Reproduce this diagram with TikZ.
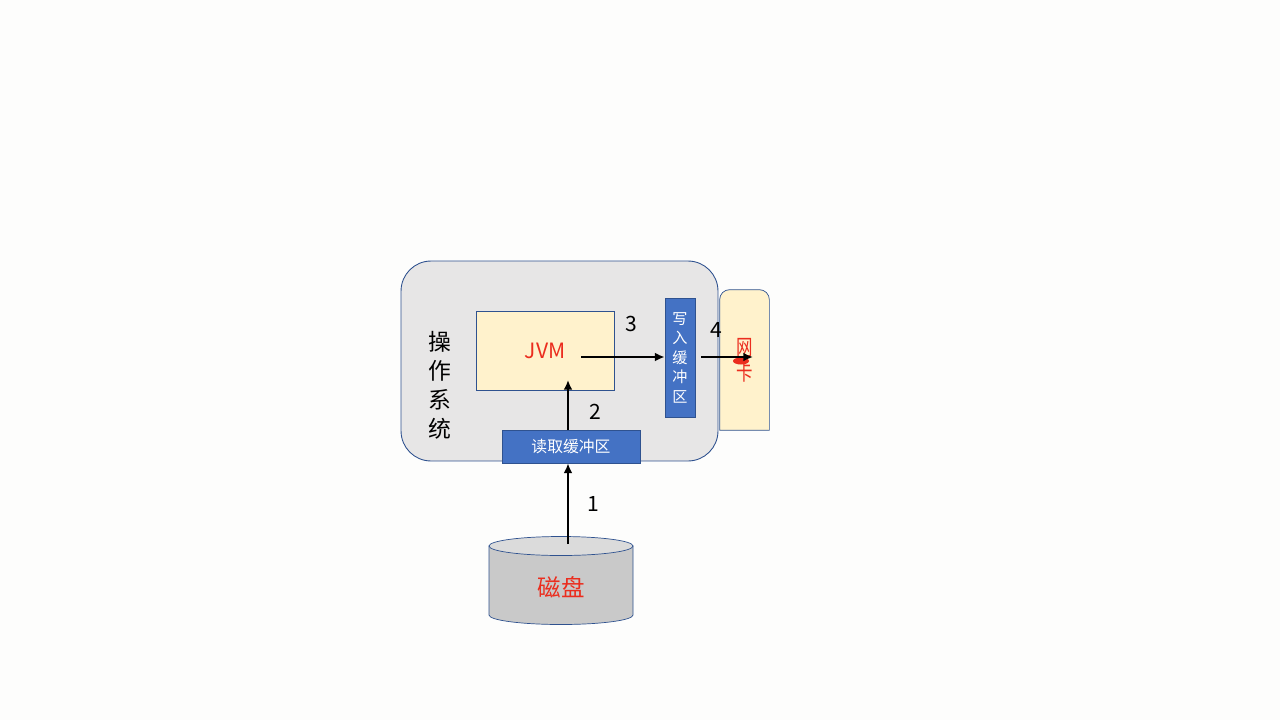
\documentclass[tikz,border=0pt]{standalone}
\usepackage{fontspec}
\setmainfont{Noto Sans CJK SC}
\usetikzlibrary{calc,arrows.meta}
\pgfdeclarelayer{lienzo}
\pgfdeclarelayer{fondo}
\pgfsetlayers{lienzo, fondo, main}
\definecolor{borde}{RGB}{47,82,143}
\definecolor{gris}{RGB}{231,230,230}
\definecolor{crema}{RGB}{255,242,204}
\definecolor{azul}{RGB}{68,114,196}
\definecolor{rojo}{RGB}{235,45,30}
\definecolor{disco}{RGB}{201,201,201}
\definecolor{tapa}{RGB}{219,219,219}
\tikzstyle{sistema}=[rectangle,draw=borde,fill=gris,rounded corners=0.6cm,minimum width=6.34cm,minimum height=4cm,line width=0.5pt]
\tikzstyle{maquina}=[rectangle,draw=borde,fill=crema,minimum width=2.76cm,minimum height=1.58cm,line width=0.4pt,text=rojo,font=\fontsize{12}{14}\selectfont]
\tikzstyle{buffer}=[rectangle,draw=borde,fill=azul,text=white,inner sep=0pt,line width=0.4pt]
\tikzstyle{vertical}=[align=center,inner sep=0pt]
\tikzstyle{numero}=[inner sep=0pt,font=\fontsize{12}{14}\selectfont]
\tikzstyle{flecha}=[-{Latex[length=5.5pt,width=5pt]},line width=1.1pt]

\begin{document}
\begin{tikzpicture}[x=0.02cm,y=-0.02cm]
		\begin{pgfonlayer}{lienzo}
			\fill[fill={rgb,255:red,253;green,253;blue,252}] (0,0) rectangle (1280,720);
		\end{pgfonlayer}
		\useasboundingbox (0,0) rectangle (1280,720);
		% sistema operativo
		\node[sistema] (os) at (559.5,361) {};
		\node[vertical,font=\fontsize{13}{16.5}\selectfont] (oslabel) at (440,385) {操\\作\\系\\统};
		\node[maquina] (jvm) at (545,350.5) {JVM};
		\node[buffer,minimum width=2.76cm,minimum height=0.66cm,font=\fontsize{9}{11}\selectfont] (readbuf) at (571,446.5) {读取缓冲区};
		\node[buffer,minimum width=0.6cm,minimum height=2.38cm,align=center,font=\fontsize{8.6}{11.1}\selectfont] (writebuf) at (680,357.5) {写\\入\\缓\\冲\\区};
		% tarjeta de red
		\node[vertical,minimum width=0.98cm,minimum height=2.8cm,text=rojo,font=\fontsize{12.5}{14.2}\selectfont] (nic) at (744.5,360) {\scalebox{0.75}[1]{网}\\\scalebox{0.75}[1]{卡}};
		\begin{pgfonlayer}{fondo}
			\filldraw[draw=borde,fill=crema,line width=0.4pt] (nic.south west) [rounded corners=0.2cm] -- (nic.north west) -- (nic.north east) [sharp corners] -- (nic.south east) -- cycle;
		\end{pgfonlayer}
		\fill[rojo] (741,361) ellipse [x radius=8,y radius=3.5];
		% disco
		\filldraw[draw=borde,fill=disco,line width=0.4pt] (489,546) -- (489,615) arc[start angle=180,end angle=0,x radius=72,y radius=9.5] -- (633,546) -- cycle;
		\filldraw[draw=borde,fill=tapa,line width=0.4pt] (561,546) ellipse [x radius=72,y radius=9.5];
		\node[text=rojo,font=\fontsize{13.4}{15}\selectfont] (disk) at (561,587) {磁盘};
		\coordinate (disktop) at (568,544);
		\coordinate (jvmin) at (568,380);
		\coordinate (jvmout) at (581,357);
		\coordinate (wbout) at (701,357);
		\coordinate (nicin) at (753,357);
		% flechas
		\draw[flecha] (disktop) -- (disktop |- readbuf.south);
		\draw[flecha] (readbuf.north -| jvmin) -- (jvmin);
		\draw[flecha] (jvmout) -- (writebuf.west |- jvmout);
		\draw[flecha] (wbout) -- (nicin);
		\node[numero] (n1) at (593,504) {1};
		\node[numero] (n2) at (595,412) {2};
		\node[numero] (n3) at (631,324) {3};
		\node[numero] (n4) at (716,330) {4};
	\end{tikzpicture}
\end{document}
